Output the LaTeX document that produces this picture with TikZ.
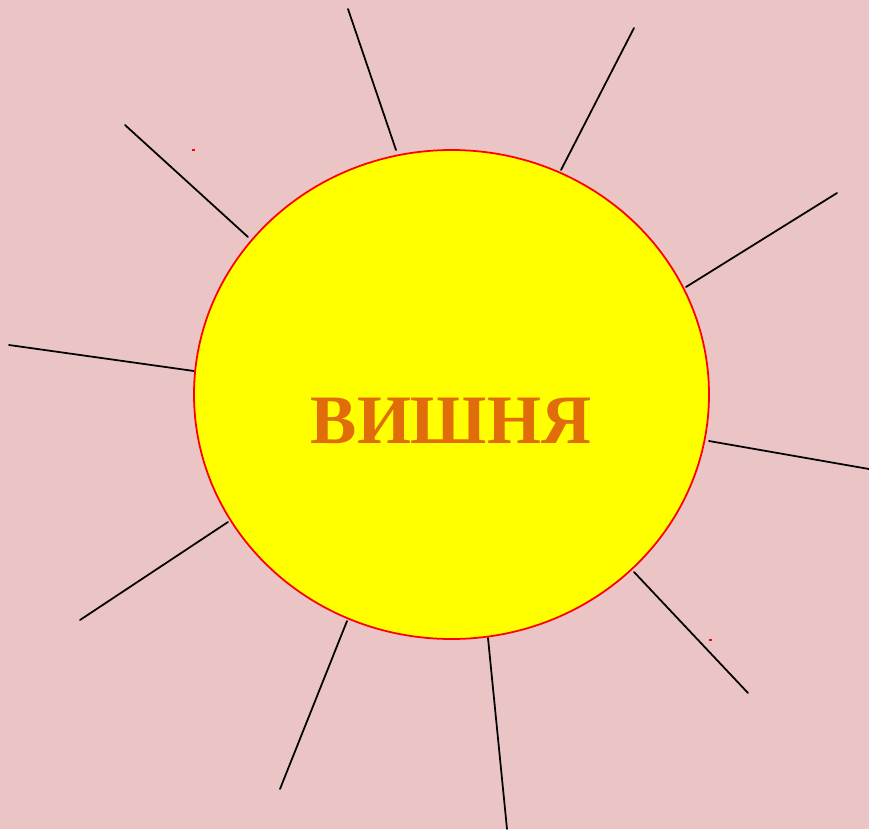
\documentclass[tikz,border=0pt]{standalone}
\usepackage{fontspec}
\setmainfont{Liberation Serif}
\usetikzlibrary{calc}

\definecolor{bgpink}{HTML}{EBC5C5}
\definecolor{sunyellow}{HTML}{FFFF00}
\definecolor{wordorange}{HTML}{E06C0A}

\begin{document}
\begin{tikzpicture}[x=0.02cm,y=-0.02cm,line cap=round,line join=round]
  \fill[bgpink] (0,0) rectangle (869,829);
  \useasboundingbox (0,0) rectangle (869,829);
  % rays: outer end / inner end
  \foreach \ox/\oy/\ix/\iy in {348/9/396/150, 634/28/561/170, 837/193/686/287,
      869/469/709/441, 748/693/634/572, 507/829/488/638, 280/789/347/621,
      80/620/228/522, 9/345/194/371, 125/125/248/237} {
    \draw[line width=1pt] (\ox,\oy) -- (\ix,\iy);
  }
  \draw[red,line width=1pt,fill=sunyellow] (451.5,394.5) ellipse [x radius=257.5,y radius=244.5];
  \node[text=wordorange,font=\fontsize{39.5}{40}\selectfont\bfseries] (word) at (451,421) {ВИШНЯ};
  \fill[red] (192,149) rectangle (195,151);
  \fill[red] (709,639) rectangle (712,641);
\end{tikzpicture}
\end{document}
